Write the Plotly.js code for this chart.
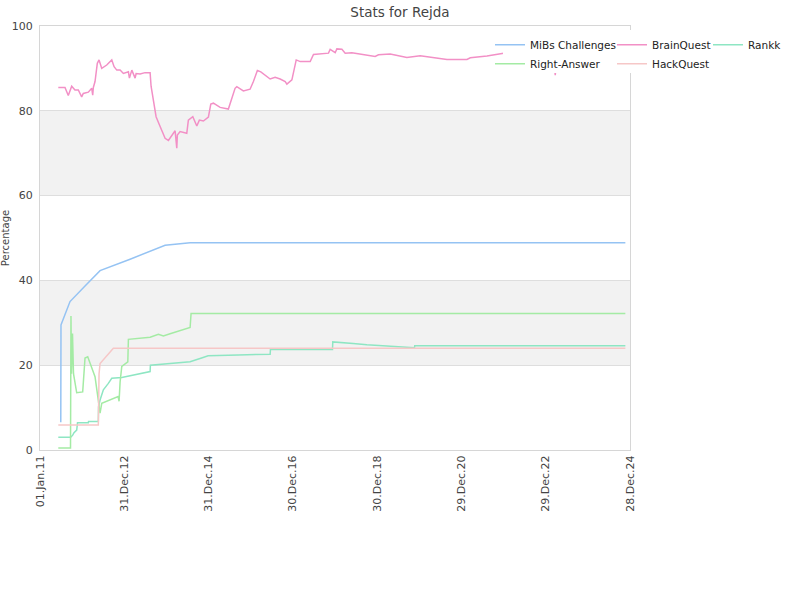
<!DOCTYPE html>
<html>
<head>
<meta charset="utf-8">
<script src="https://cdn.plot.ly/plotly-3.0.1.min.js"></script>
<style>html,body{margin:0;padding:0;background:#fff;}#chart{width:800px;height:600px;}</style>
</head>
<body>
<div id="chart"></div>
<script>
// Dates are given as decimal years, values in percent
const mibsYears = [2011.474, 2011.493, 2011.498, 2011.633, 2011.712, 2012.068, 2012.424, 2013.135, 2013.610, 2013.966, 2014.559, 2024.879];
const mibsValues = [6.7, 6.7, 29.5, 33.2, 35.0, 38.7, 42.3, 45.0, 46.8, 48.3, 48.9, 48.9];

const brainYears = [2011.434, 2011.593, 2011.671, 2011.752, 2011.830, 2011.909, 2011.989, 2012.027, 2012.146, 2012.186, 2012.227, 2012.250, 2012.265, 2012.305, 2012.359, 2012.400, 2012.464, 2012.582, 2012.701, 2012.756, 2012.820, 2012.898, 2012.976, 2013.095, 2013.119, 2013.176, 2013.254, 2013.278, 2013.373, 2013.491, 2013.610, 2013.633, 2013.688, 2013.752, 2013.830, 2013.887, 2013.966, 2014.044, 2014.125, 2014.203, 2014.243, 2014.257, 2014.322, 2014.480, 2014.518, 2014.623, 2014.718, 2014.779, 2014.874, 2014.993, 2015.050, 2015.112, 2015.271, 2015.467, 2015.626, 2015.667, 2015.823, 2015.982, 2016.061, 2016.155, 2016.236, 2016.457, 2016.575, 2016.694, 2016.813, 2016.853, 2016.972, 2017.074, 2017.169, 2017.406, 2017.484, 2017.840, 2017.880, 2017.999, 2018.039, 2018.158, 2018.236, 2018.395, 2018.948, 2019.026, 2019.304, 2019.700, 2020.016, 2020.649, 2021.123, 2021.202, 2021.598, 2021.992, 2023.171, 2023.218, 2023.266, 2024.879];
const brainValues = [85.5, 85.5, 83.6, 85.8, 84.9, 84.9, 83.3, 84.1, 84.4, 84.9, 85.3, 83.7, 85.5, 86.9, 91.2, 92.0, 90.0, 90.8, 92.0, 90.4, 89.6, 89.6, 88.8, 89.2, 87.7, 89.6, 87.7, 88.8, 88.7, 89.0, 89.0, 85.8, 82.1, 78.6, 76.7, 75.5, 73.5, 73.0, 74.3, 75.3, 71.2, 74.3, 75.1, 74.7, 77.8, 78.6, 76.4, 77.8, 77.6, 78.5, 81.6, 81.8, 80.8, 80.4, 85.3, 85.7, 84.7, 85.1, 86.9, 89.5, 89.2, 87.5, 87.9, 87.5, 86.9, 86.3, 87.3, 92.0, 91.6, 91.6, 93.3, 93.6, 94.5, 93.7, 94.6, 94.5, 93.6, 93.7, 92.8, 93.2, 93.4, 92.6, 93.0, 92.1, 92.1, 92.5, 92.9, 93.6, 93.9, 88.4, 93.9, 94.2];

const rankkYears = [2011.434, 2011.728, 2011.776, 2011.807, 2011.871, 2011.890, 2012.146, 2012.151, 2012.383, 2012.388, 2012.424, 2012.502, 2012.620, 2012.701, 2012.938, 2013.610, 2013.617, 2014.084, 2014.559, 2014.867, 2014.986, 2015.698, 2016.457, 2016.464, 2017.935, 2017.942, 2018.118, 2018.426, 2018.751, 2019.067, 2019.375, 2019.707, 2019.880, 2019.887, 2024.879];
const rankkValues = [3.0, 3.0, 3.5, 4.1, 4.7, 6.4, 6.4, 6.7, 6.7, 10.2, 11.8, 14.2, 15.7, 16.9, 17.1, 18.5, 20.0, 20.4, 20.8, 21.8, 22.2, 22.4, 22.6, 23.7, 23.7, 25.5, 25.3, 25.1, 24.8, 24.6, 24.4, 24.1, 24.1, 24.6, 24.6];

const rightYears = [2011.434, 2011.724, 2011.735, 2011.747, 2011.771, 2011.795, 2011.871, 2012.013, 2012.068, 2012.132, 2012.305, 2012.424, 2012.464, 2012.851, 2012.874, 2012.898, 2012.938, 2013.081, 2013.095, 2013.610, 2013.807, 2013.925, 2014.084, 2014.559, 2014.582, 2024.879];
const rightValues = [0.5, 0.5, 31.6, 18.0, 27.5, 18.0, 13.5, 13.7, 21.7, 22.0, 17.3, 8.7, 11.0, 12.6, 11.5, 16.0, 19.7, 20.8, 26.1, 26.6, 27.3, 26.9, 27.4, 28.9, 32.2, 32.2];

const hackYears = [2011.434, 2012.383, 2012.400, 2012.424, 2012.739, 2024.879];
const hackValues = [5.9, 5.9, 18.0, 20.4, 24.0, 24.0];

const seriesNames = ['MiBs Challenges', 'BrainQuest', 'Rankk', 'Right-Answer', 'HackQuest'];
const seriesColors = ['#95c3f3', '#f290c6', '#8ee6c3', '#a4eba4', '#f6c7c7'];

function yearToDate(y) {
  const yr = Math.floor(y);
  const s = Date.UTC(yr, 0, 1), e = Date.UTC(yr + 1, 0, 1);
  return new Date(s + (y - yr) * (e - s)).toISOString().slice(0, 19);
}

const allYears = [mibsYears, brainYears, rankkYears, rightYears, hackYears];
const allValues = [mibsValues, brainValues, rankkValues, rightValues, hackValues];
const legendIds = ['legend', 'legend2', 'legend3', 'legend', 'legend2'];

const traces = seriesNames.map((n, i) => ({
  type: 'scatter', mode: 'lines', name: n,
  x: allYears[i].map(yearToDate), y: allValues[i],
  line: {color: seriesColors[i], width: 1.5},
  legend: legendIds[i],
  hoverinfo: 'skip'
}));

const legendBase = {
  orientation: 'v', yanchor: 'top', xanchor: 'left', y: 0.99,
  bgcolor: 'rgba(0,0,0,0)', borderwidth: 0, itemwidth: 30,
  font: {family: 'DejaVu Sans', size: 10.5, color: '#222'},
  tracegroupgap: 0
};

const layout = {
  width: 800, height: 600,
  margin: {l: 40, r: 170, t: 26, b: 150},
  paper_bgcolor: '#ffffff', plot_bgcolor: '#ffffff',
  font: {family: 'DejaVu Sans', size: 11, color: '#444'},
  title: {text: 'Stats for Rejda', x: 0.5, xref: 'container', y: 0.98, yref: 'container', yanchor: 'middle',
          font: {family: 'DejaVu Sans', size: 13.5, color: '#444'}},
  showlegend: true,
  legend: Object.assign({}, legendBase, {x: 0.7627}),
  legend2: Object.assign({}, legendBase, {x: 0.9695}),
  legend3: Object.assign({}, legendBase, {x: 1.1322}),
  xaxis: {
    type: 'date', range: ['2011-01-01', '2024-12-28'],
    tick0: '2011-01-01', dtick: 730 * 86400000, tickformat: '%d.%b.%y',
    tickangle: -90, showgrid: false, zeroline: false,
    showline: true, mirror: true, linecolor: '#d6d6d6', linewidth: 1,
    ticks: '', tickfont: {family: 'DejaVu Sans', size: 11, color: '#444'}
  },
  yaxis: {
    range: [0, 100], dtick: 20, showgrid: true, gridcolor: '#dedede',
    zeroline: false, showline: true, mirror: true, linecolor: '#d6d6d6', linewidth: 1,
    ticks: '', ticklabelstandoff: 4,
    tickfont: {family: 'DejaVu Sans', size: 11, color: '#444'},
    title: {text: 'Percentage', font: {family: 'DejaVu Sans', size: 10, color: '#444'}, standoff: 5}
  },
  shapes: [
    {type: 'rect', xref: 'paper', x0: 0, x1: 1, yref: 'y', y0: 20, y1: 40, fillcolor: '#f2f2f2', line: {width: 0}, layer: 'below'},
    {type: 'rect', xref: 'paper', x0: 0, x1: 1, yref: 'y', y0: 60, y1: 80, fillcolor: '#f2f2f2', line: {width: 0}, layer: 'below'},
    // white backing behind the legend block
    {type: 'rect', xref: 'paper', x0: 0.7847, x1: 1.271, yref: 'paper', y0: 0.889, y1: 0.9906, fillcolor: '#ffffff', line: {width: 0}, layer: 'above'}
  ]
};

Plotly.newPlot('chart', traces, layout, {displayModeBar: false, staticPlot: true});
</script>
</body>
</html>
